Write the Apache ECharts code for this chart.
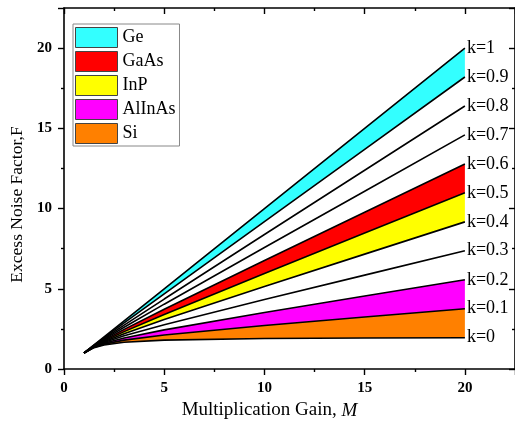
<!DOCTYPE html>
<html><head><meta charset="utf-8">
<script src="https://cdn.jsdelivr.net/npm/echarts@6/dist/echarts.min.js"></script>
<style>html,body{margin:0;padding:0;background:#fff}#c{width:515px;height:425px}</style>
</head><body><div id="c"></div>
<script>
// Multiplication gain sample points
const M = [1, 1.5, 2, 3, 5, 10, 15, 20];
// Excess noise factor F read for each k curve
const F_k00 = [1, 1.33, 1.5, 1.67, 1.8, 1.9, 1.93, 1.95];
const F_k01 = [1, 1.35, 1.55, 1.8, 2.12, 2.71, 3.24, 3.76];
const F_k02 = [1, 1.37, 1.6, 1.93, 2.44, 3.52, 4.55, 5.56];
const F_k03 = [1, 1.38, 1.65, 2.07, 2.76, 4.33, 5.85, 7.37];
const F_k04 = [1, 1.4, 1.7, 2.2, 3.08, 5.14, 7.16, 9.17];
const F_k05 = [1, 1.42, 1.75, 2.33, 3.4, 5.95, 8.47, 10.98];
const F_k06 = [1, 1.43, 1.8, 2.47, 3.72, 6.76, 9.77, 12.78];
const F_k07 = [1, 1.45, 1.85, 2.6, 4.04, 7.57, 11.08, 14.59];
const F_k08 = [1, 1.47, 1.9, 2.73, 4.36, 8.38, 12.39, 16.39];
const F_k09 = [1, 1.48, 1.95, 2.87, 4.68, 9.19, 13.69, 18.2];
const F_k10 = [1, 1.5, 2, 3, 5, 10, 15, 20];
const kNames = ['k=0','k=0.1','k=0.2','k=0.3','k=0.4','k=0.5','k=0.6','k=0.7','k=0.8','k=0.9','k=1'];
const kCurves = [F_k00,F_k01,F_k02,F_k03,F_k04,F_k05,F_k06,F_k07,F_k08,F_k09,F_k10];
// Material bands: lower / upper k-curve index
const materials = ['Ge','GaAs','InP','AlInAs','Si'];
const bandLower = [9, 5, 4, 1, 0];
const bandUpper = [10, 6, 5, 2, 1];
const bandColors = ['#33FFFF','#FF0000','#FFFF00','#FF00FF','#FF8000'];

const serif = 'Liberation Serif, Times New Roman, serif';
const series = [];
materials.forEach((name, i) => {
  const lo = kCurves[bandLower[i]], hi = kCurves[bandUpper[i]];
  const pts = M.map((m, j) => [m, hi[j]]).concat(M.map((m, j) => [m, lo[j]]).reverse());
  series.push({
    name: name, type: 'custom', silent: true, z: 1,
    itemStyle: {color: bandColors[i]},
    data: [0],
    renderItem: (params, api) => ({
      type: 'polygon',
      shape: {points: pts.map(p => api.coord(p))},
      style: {fill: bandColors[i], stroke: null}
    })
  });
});
kCurves.forEach((c, i) => {
  series.push({
    name: kNames[i], type: 'line', showSymbol: false, symbol: 'none', silent: true,
    lineStyle: {color: '#000', width: 1.6},
    itemStyle: {color: '#000'},
    data: M.map((m, j) => [m, c[j]]), z: 3,
    endLabel: {show: true, formatter: p => p.seriesName, color: '#000',
      fontFamily: serif, fontSize: 18, distance: 2}
  });
});

const axBase = (pos, inside, labels) => ({
  type: 'value', position: pos, min: 0, max: 22.5, interval: 5,
  axisLine: {show: true, onZero: false, lineStyle: {color: '#000', width: 1.6}},
  axisTick: {show: true, inside: inside, length: 6, lineStyle: {color: '#000', width: 1.4}},
  minorTick: {show: true, splitNumber: 2, length: 3, lineStyle: {color: '#000', width: 1.4}},
  splitLine: {show: false},
  axisLabel: labels ? {show: true, fontFamily: serif, fontWeight: 'bold', fontSize: 15, color: '#000', margin: 12,
    showMaxLabel: false} : {show: false}
});

const xBottom = Object.assign(axBase('bottom', false, true), {
  name: '{n|Multiplication Gain, }{i|M}', nameLocation: 'middle', nameGap: 32,
  nameTextStyle: {fontFamily: serif, fontSize: 19, color: '#000', padding: [0, 40, 0, 0],
    rich: {n: {fontFamily: serif, fontSize: 19, color: '#000'}, i: {fontFamily: serif, fontSize: 19, fontStyle: 'italic', color: '#000'}}}
});
const xTop = axBase('top', true, false);
const yLeft = Object.assign(axBase('left', false, true), {
  name: 'Excess Noise Factor,F', nameLocation: 'middle', nameGap: 38,
  nameTextStyle: {fontFamily: serif, fontSize: 17.5, color: '#000', padding: [0, 32, 0, 0]}
});
const yRight = axBase('right', true, false);

const chart = echarts.init(document.getElementById('c'), null, {renderer: 'canvas'});
chart.setOption({
  animation: false,
  backgroundColor: '#fff',
  grid: {left: 63, top: 8, width: 453, height: 364, containLabel: false},
  xAxis: [xBottom, xTop],
  yAxis: [yLeft, yRight],
  legend: {
    data: materials, left: 73, top: 24, orient: 'vertical',
    icon: 'rect', itemWidth: 42, itemHeight: 20, itemGap: 3,
    padding: [3, 4, 2, 2], backgroundColor: '#fff', borderColor: '#888', borderWidth: 1,
    itemStyle: {borderColor: '#444', borderWidth: 1},
    textStyle: {fontFamily: serif, fontSize: 18, color: '#000'},
    selectedMode: false
  },
  series: series
});
</script></body></html>
